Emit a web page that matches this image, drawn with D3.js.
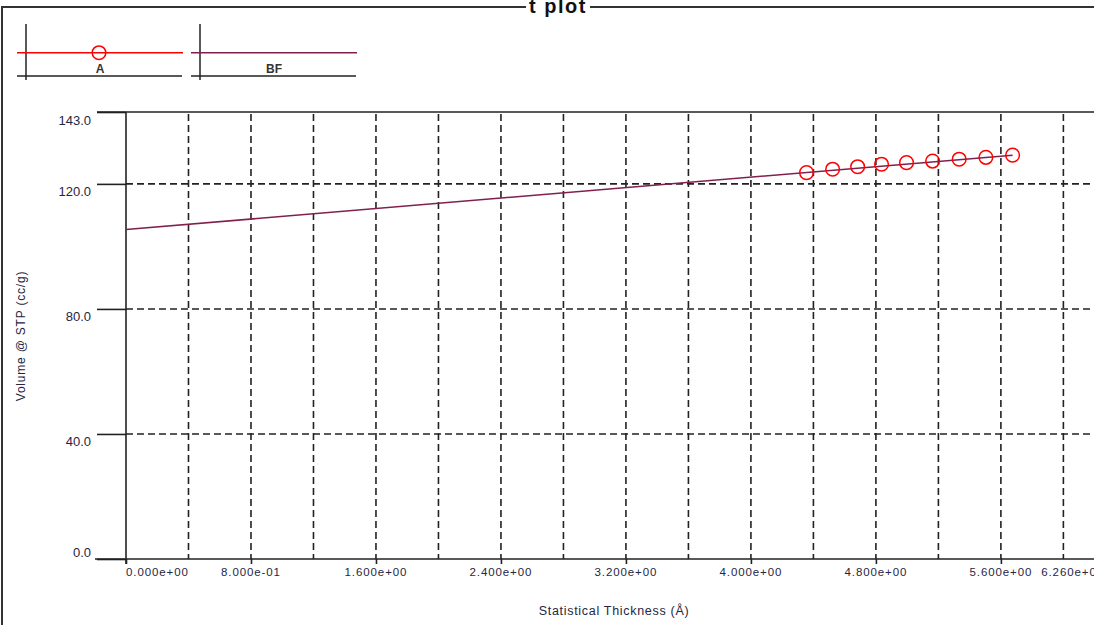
<!DOCTYPE html>
<html><head><meta charset="utf-8">
<script src="https://cdn.jsdelivr.net/npm/d3@7"></script>
<style>
html,body{margin:0;padding:0;background:#fff;overflow:hidden}
svg{display:block}
text{font-family:"Liberation Sans",Arial,sans-serif}
</style></head>
<body>
<script>
// ---- data ----
const title = "t plot";
const xTitle = "Statistical Thickness (Å)";
const yTitle = "Volume @ STP (cc/g)";
const seriesNames = ["A", "BF"];
const seriesColors = ["#ff0000", "#80204f"];
const aX = [4.356, 4.523, 4.683, 4.836, 4.996, 5.163, 5.333, 5.504, 5.675];
const aY = [123.6, 124.7, 125.5, 126.3, 126.8, 127.3, 127.9, 128.5, 129.2];
const fitX = [0, 5.675];
const fitY = [105.4, 129.2];
const xDomain = [0, 6.26];
const yDomain = [0, 143];
const xMajorTicks = [0, 0.8, 1.6, 2.4, 3.2, 4.0, 4.8, 5.6, 6.26];
const xTickLabels = ["0.000e+00","8.000e-01","1.600e+00","2.400e+00","3.200e+00","4.000e+00","4.800e+00","5.600e+00","6.260e+00"];
const xGridTicks = [0.4, 0.8, 1.2, 1.6, 2.0, 2.4, 2.8, 3.2, 3.6, 4.0, 4.4, 4.8, 5.2, 5.6, 6.0];
const yTicks = [0, 40, 80, 120, 143];
const yTickLabels = ["0.0", "40.0", "80.0", "120.0", "143.0"];
const yGridTicks = [40, 80, 120];

// ---- layout ----
const W = 1094, H = 625;
const svg = d3.select("body").append("svg").attr("width", W).attr("height", H);
const x = d3.scaleLinear().domain(xDomain).range([126, 1104]);
const y = d3.scaleLinear().domain(yDomain).range([559, 112]);
const ink = "#222";
const txt = "#26263f";

// outer frame
svg.append("path").attr("d", `M2,${H+5} L2,7 L${W+5},7`).attr("fill","none")
  .attr("stroke","#333").attr("stroke-width",2);
// title with white background breaking the frame
svg.append("rect").attr("x",526).attr("y",0).attr("width",64).attr("height",14).attr("fill","#fff");
svg.append("text").attr("x",558).attr("y",12.5).attr("text-anchor","middle")
  .attr("font-size",20).attr("font-weight","bold").attr("letter-spacing",1.5)
  .attr("fill","#111").text(title);

// legend
const legend = svg.append("g");
const legBoxes = [{x0:17,x1:183,vx:26,lx:100},{x0:191,x1:357,vx:200,lx:274}];
seriesNames.forEach((name,i)=>{
  const b = legBoxes[i];
  const g = legend.append("g");
  g.append("line").attr("x1",b.vx).attr("x2",b.vx).attr("y1",24).attr("y2",80)
    .attr("stroke",ink).attr("stroke-width",1.5);
  g.append("line").attr("x1",b.x0).attr("x2",b.x1-1).attr("y1",76).attr("y2",76)
    .attr("stroke",ink).attr("stroke-width",1.5);
  g.append("line").attr("x1",b.x0).attr("x2",b.x1).attr("y1",52.7).attr("y2",52.7)
    .attr("stroke",seriesColors[i]).attr("stroke-width",1.5);
  if(i===0){
    g.append("circle").attr("cx",99).attr("cy",52.7).attr("r",6.8)
      .attr("fill","none").attr("stroke",seriesColors[i]).attr("stroke-width",1.5);
  }
  g.append("text").attr("x",b.lx).attr("y",73.2).attr("text-anchor","middle")
    .attr("font-size",12).attr("font-weight","bold").attr("fill","#333").text(name);
});

// grid: vertical dashed
svg.append("g").selectAll("line").data(xGridTicks).join("line")
  .attr("x1",d=>x(d)).attr("x2",d=>x(d)).attr("y1",y(143)+2).attr("y2",y(0))
  .attr("stroke",ink).attr("stroke-width",1.6).attr("stroke-dasharray","7,4");
// grid: horizontal dashed
svg.append("g").selectAll("line").data(yGridTicks).join("line")
  .attr("x1",x(0)).attr("x2",W+5).attr("y1",d=>y(d)).attr("y2",d=>y(d))
  .attr("stroke",ink).attr("stroke-width",1.6).attr("stroke-dasharray","7,4");

// y axis
const yAxis = d3.axisLeft(y).tickValues(yTicks).tickSize(29).tickFormat(()=> "");
const yg = svg.append("g").attr("transform",`translate(${x(0)},0)`).call(yAxis);
yg.select(".domain").remove();
yg.selectAll(".tick line").attr("stroke",ink).attr("stroke-width",1.6);
svg.append("line").attr("x1",x(0)).attr("x2",x(0)).attr("y1",y(143)).attr("y2",y(0)+5)
  .attr("stroke",ink).attr("stroke-width",1.6);
// top border line and bottom axis line
svg.append("line").attr("x1",97).attr("x2",W+5).attr("y1",y(143)).attr("y2",y(143))
  .attr("stroke",ink).attr("stroke-width",1.6);
svg.append("line").attr("x1",95).attr("x2",W+5).attr("y1",y(0)).attr("y2",y(0))
  .attr("stroke",ink).attr("stroke-width",1.6);
// y labels
svg.append("g").selectAll("text").data(yTicks).join("text")
  .attr("x",91).attr("y",(d,i)=> i===0 ? y(d)-2.5 : y(d)+12.5)
  .attr("text-anchor","end").attr("font-size",13).attr("fill",txt)
  .text((d,i)=>yTickLabels[i]);

// x axis ticks
const xAxis = d3.axisBottom(x).tickValues(xMajorTicks.slice(0,-1)).tickSize(5).tickFormat(()=> "");
const xg = svg.append("g").attr("transform",`translate(0,${y(0)})`).call(xAxis);
xg.select(".domain").remove();
xg.selectAll(".tick line").attr("stroke",ink).attr("stroke-width",1.6);
// x labels
const nX = xMajorTicks.length;
svg.append("g").selectAll("text").data(xMajorTicks).join("text")
  .attr("x",d=>x(d)).attr("y",576)
  .attr("text-anchor",(d,i)=> i===0 ? "start" : (i===nX-1 ? "end" : "middle"))
  .attr("font-size",11.5).attr("letter-spacing",0.9).attr("fill",txt)
  .text((d,i)=>xTickLabels[i]);

// axis titles
svg.append("text").attr("x",614).attr("y",615).attr("text-anchor","middle")
  .attr("font-size",12.5).attr("letter-spacing",0.7).attr("fill",txt).text(xTitle);
svg.append("text").attr("transform","translate(25,336) rotate(-90)").attr("text-anchor","middle")
  .attr("font-size",12).attr("letter-spacing",0.8).attr("fill",txt).text(yTitle);

// fit line BF
const line = d3.line().x(d=>x(d[0])).y(d=>y(d[1]));
svg.append("path").datum(fitX.map((v,i)=>[v,fitY[i]])).attr("d",line)
  .attr("fill","none").attr("stroke",seriesColors[1]).attr("stroke-width",1.5);

// series A circles
svg.append("g").selectAll("circle").data(aX.map((v,i)=>[v,aY[i]])).join("circle")
  .attr("cx",d=>x(d[0])).attr("cy",d=>y(d[1])).attr("r",6.8)
  .attr("fill","none").attr("stroke",seriesColors[0]).attr("stroke-width",1.5);
</script>
</body></html>
